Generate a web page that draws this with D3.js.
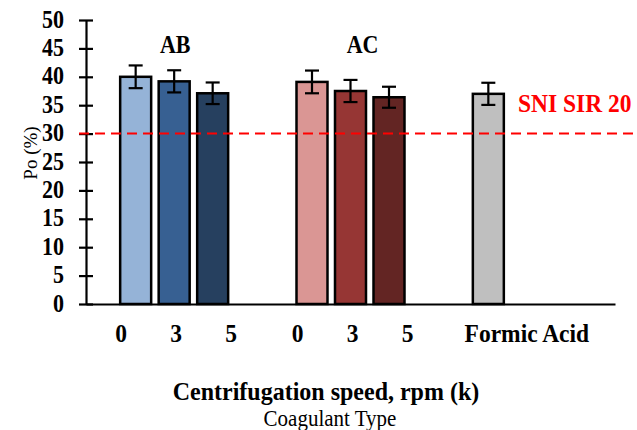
<!DOCTYPE html>
<html>
<head>
<meta charset="utf-8">
<script src="https://cdn.jsdelivr.net/npm/d3@7"></script>
<style>
  body { margin: 0; background: #fff; }
</style>
</head>
<body>
<svg id="chart" width="637" height="430"></svg>
<script>
// Coagulant groups and centrifugation speeds (k rpm)
var groups = ['AB', 'AC', 'Formic Acid'];
var speeds = ['0', '3', '5'];

// Po (%) means and error bars
var abValues = [40.0, 39.2, 37.1];
var abErrors = [2.0, 1.95, 1.9];
var acValues = [39.1, 37.5, 36.4];
var acErrors = [2.0, 1.95, 1.85];
var formicValues = [37.0];
var formicErrors = [1.95];

var sniLimit = 30;
var yTicks = [0, 5, 10, 15, 20, 25, 30, 35, 40, 45, 50];

var abColors = ['#95b3d7', '#376092', '#26405f'];
var acColors = ['#da9694', '#963634', '#632523'];
var formicColors = ['#bfbfbf'];

var FONT = '"Liberation Serif", "Times New Roman", serif';

var svg = d3.select('#chart');
var margin = { top: 20, left: 86, right: 22, bottom: 126 };
var width = +svg.attr('width') - margin.left - margin.right;
var height = +svg.attr('height') - margin.top - margin.bottom;

var x0 = d3.scaleBand().domain(groups).range([0, width]).padding(0);
var x1 = d3.scaleBand().domain([0, 1, 2]).range([0, x0.bandwidth()])
	.paddingInner(0.195).paddingOuter(0.8875);
var y = d3.scaleLinear().domain([0, 50]).range([height, 0]);
// speed labels sit a bit wider than the bars
var xLabel = d3.scalePoint().domain([0, 1, 2]).range([-53, 57]);

var g = svg.append('g').attr('transform', 'translate(' + margin.left + ',' + margin.top + ')');

// build rows from the arrays
var rows = [];
function addRows(group, values, errors, colors) {
	values.forEach(function(v, i) {
		rows.push({ group: group, idx: i, value: v, err: errors[i], color: colors[i] });
	});
}
addRows('AB', abValues, abErrors, abColors);
addRows('AC', acValues, acErrors, acColors);
addRows('Formic Acid', formicValues, formicErrors, formicColors);

function barX(d) {
	return x0(d.group) + x1(d.idx);
}

// stretched serif text like the original
function label(sel, px, py, str, size, weight, anchor, color, sy) {
	return sel.append('text')
		.attr('transform', 'translate(' + px + ',' + py + ') scale(1,' + (sy || 1.1) + ')')
		.attr('text-anchor', anchor)
		.attr('font-family', FONT)
		.attr('font-size', size)
		.attr('font-weight', weight)
		.attr('fill', color || '#000')
		.text(str);
}

// Bars
g.selectAll('rect.bar')
	.data(rows)
	.enter()
	.append('rect')
	.attr('class', 'bar')
	.attr('x', barX)
	.attr('y', function(d) { return y(d.value); })
	.attr('width', x1.bandwidth())
	.attr('height', function(d) { return y(0) - y(d.value); })
	.attr('fill', function(d) { return d.color; })
	.attr('stroke', '#000')
	.attr('stroke-width', 2.5);

// Error bars
var err = g.selectAll('g.err').data(rows).enter().append('g').attr('class', 'err')
	.attr('stroke', '#000').attr('stroke-width', 2.2);
err.append('line')
	.attr('x1', function(d) { return barX(d) + x1.bandwidth() / 2; })
	.attr('x2', function(d) { return barX(d) + x1.bandwidth() / 2; })
	.attr('y1', function(d) { return y(d.value + d.err); })
	.attr('y2', function(d) { return y(d.value - d.err); });
[1, -1].forEach(function(s) {
	err.append('line')
		.attr('x1', function(d) { return barX(d) + x1.bandwidth() / 2 - 7; })
		.attr('x2', function(d) { return barX(d) + x1.bandwidth() / 2 + 7; })
		.attr('y1', function(d) { return y(d.value + s * d.err); })
		.attr('y2', function(d) { return y(d.value + s * d.err); });
});

// Y axis with crossing ticks
var yAxis = g.append('g')
	.call(d3.axisLeft(y).tickValues(yTicks).tickSize(7).tickSizeOuter(0))
	.attr('font-family', FONT);
yAxis.select('.domain').attr('stroke-width', 2.2);
yAxis.selectAll('.tick line').attr('x1', 7).attr('x2', -7).attr('stroke-width', 2.2);
yAxis.selectAll('.tick text').remove();
yAxis.selectAll('.tick').each(function(d) {
	label(d3.select(this), -22, 7, d, 22, 'bold', 'end');
});

// X axis line
var xAxis = g.append('g')
	.attr('transform', 'translate(0,' + height + ')')
	.call(d3.axisBottom(x0).tickSize(0).tickFormat(''));
xAxis.select('.domain').attr('stroke-width', 2.2);

// SNI SIR 20 threshold
g.append('line')
	.attr('x1', -7)
	.attr('x2', +svg.attr('width') - margin.left)
	.attr('y1', y(sniLimit))
	.attr('y2', y(sniLimit))
	.attr('stroke', '#ff0000')
	.attr('stroke-width', 2)
	.attr('stroke-dasharray', '10,6');
label(g, 432, y(sniLimit) - 22, 'SNI SIR 20', 23.5, 'bold', 'start', '#ff0000');

// Group labels above the bars
label(g, x0('AB') + x0.bandwidth() / 2 + 1, 33, 'AB', 22, 'bold', 'middle');
label(g, x0('AC') + x0.bandwidth() / 2 + 12, 33, 'AC', 22, 'bold', 'middle');

// Speed labels under axis
['AB', 'AC'].forEach(function(grp) {
	speeds.forEach(function(s, i) {
		label(g, x0(grp) + x0.bandwidth() / 2 + xLabel(i), height + 38, s, 23.5, 'bold', 'middle');
	});
});
label(g, x0('Formic Acid') + x0.bandwidth() / 2, height + 38, 'Formic Acid', 23.5, 'bold', 'middle');

// Axis titles
label(svg, 326, 400, 'Centrifugation speed, rpm (k)', 24, 'bold', 'middle', '#000', 1.05);
label(svg, 330, 426, 'Coagulant Type', 21, 'normal', 'middle', '#000', 1.05);
svg.append('text')
	.attr('transform', 'translate(37,153) rotate(-90)')
	.attr('text-anchor', 'middle')
	.attr('font-family', FONT)
	.attr('font-size', 19)
	.text('Po (%)');
</script>
</body>
</html>
